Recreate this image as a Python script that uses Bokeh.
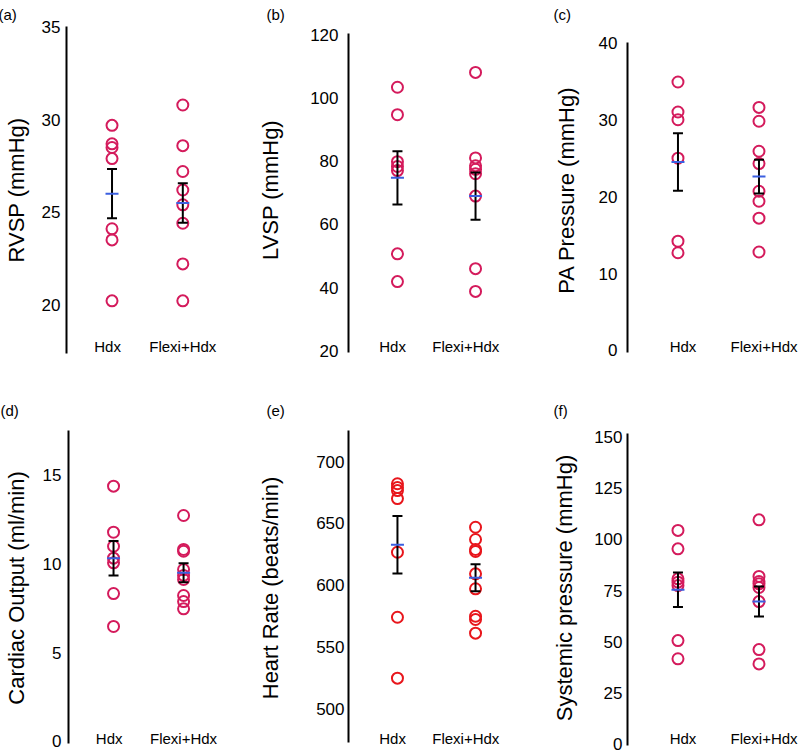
from bokeh.plotting import figure
from bokeh.models import Range1d, FixedTicker, Title
from bokeh.layouts import row, column
from bokeh.embed import file_html
from bokeh.resources import INLINE

# ---------------- data ----------------
categories = ["Hdx", "Flexi+Hdx"]

rvsp_hdx = [29.7, 28.7, 28.5, 27.9, 24.1, 23.5, 20.2]
rvsp_flexi = [30.8, 28.6, 27.2, 26.2, 25.4, 24.4, 22.2, 20.2]
rvsp_mean = [26.0, 25.5]
rvsp_sem = [1.33, 1.07]

lvsp_hdx = [103.5, 94.8, 79.9, 78.4, 77.1, 50.7, 41.9]
lvsp_flexi = [108.2, 81.1, 78.6, 77.5, 76.1, 69.0, 46.0, 38.8]
lvsp_mean = [74.8, 69.0]
lvsp_sem = [8.45, 7.5]

pa_hdx = [34.9, 31.0, 30.0, 25.0, 14.2, 12.7]
pa_flexi = [31.6, 29.8, 25.9, 24.3, 20.7, 19.4, 17.2, 12.8]
pa_mean = [24.5, 22.6]
pa_sem = [3.75, 2.2]

co_hdx = [14.36, 11.77, 10.98, 10.31, 10.05, 8.32, 6.47]
co_flexi = [12.71, 10.8, 10.7, 9.67, 9.34, 9.11, 8.21, 7.87, 7.46]
co_mean = [10.3, 9.49]
co_sem = [0.97, 0.53]

hr_hdx = [682, 679, 676.5, 670, 626.6, 574, 524.7]
hr_flexi = [646.8, 636.9, 628.8, 627.2, 609.1, 597.0, 574.8, 572.2, 561.1]
hr_mean = [632.6, 606.0]
hr_sem = [23.3, 10.95]

sp_hdx = [104.4, 95.4, 80.7, 79.1, 77.4, 50.5, 41.6]
sp_flexi = [109.6, 81.9, 79.4, 78.3, 76.5, 69.6, 46.1, 39.1]
sp_mean = [75.4, 69.6]
sp_sem = [8.45, 7.35]

ticks_a = [20, 25, 30, 35]
ticks_b = [20, 40, 60, 80, 100, 120]
ticks_c = [0, 10, 20, 30, 40]
ticks_d = [0, 5, 10, 15]
ticks_e = [500, 550, 600, 650, 700]
ticks_f = [0, 25, 50, 75, 100, 125, 150]

FONT = "Liberation Sans"
CRIMSON = "#d41b5c"
RED = "#e8161c"
BLUE = "#3b5fe0"


def panel(tag, ylabel, hdx, flexi, means, sems, ticks, yr, bounds, xr, width,
          height, mbl, mbt, mbb, color, tick_standoff, als, tag_offset,
          tag_standoff, label_shift):
    p = figure(width=width, height=height,
               x_range=Range1d(*xr), y_range=Range1d(*yr),
               output_backend="svg", toolbar_location=None,
               min_border_left=mbl, min_border_right=0,
               min_border_top=mbt, min_border_bottom=mbb)
    p.outline_line_color = None
    p.grid.visible = False
    p.background_fill_color = "white"
    p.border_fill_color = "white"

    # panel tag
    p.add_layout(Title(text=tag, align="left", offset=tag_offset,
                       standoff=tag_standoff, text_font=FONT,
                       text_font_size="15px", text_font_style="normal",
                       text_color="black"), "above")

    # y axis
    ya = p.yaxis[0]
    ya.ticker = FixedTicker(ticks=ticks)
    ya.bounds = bounds
    ya.axis_line_color = "black"
    ya.axis_line_width = 2
    ya.major_tick_line_color = None
    ya.minor_tick_line_color = None
    ya.major_tick_out = 0
    ya.major_tick_in = 0
    ya.major_label_standoff = tick_standoff
    ya.major_label_text_font = FONT
    ya.major_label_text_font_size = "17px"
    ya.major_label_text_color = "black"
    ya.axis_label = ylabel
    ya.axis_label_text_font = FONT
    ya.axis_label_text_font_size = "22px"
    ya.axis_label_text_font_style = "normal"
    ya.axis_label_text_color = "black"
    ya.axis_label_standoff = als

    # x axis (category labels), slightly offset from the point columns
    tick_pos = [i + d for i, d in enumerate(label_shift)]
    xa = p.xaxis[0]
    xa.ticker = FixedTicker(ticks=tick_pos)
    xa.major_label_overrides = {t: c for t, c in zip(tick_pos, categories)}
    xa.axis_line_color = None
    xa.major_tick_line_color = None
    xa.minor_tick_line_color = None
    xa.major_tick_out = 0
    xa.major_tick_in = 0
    xa.major_label_standoff = -16
    xa.major_label_text_font = FONT
    xa.major_label_text_font_size = "15px"
    xa.major_label_text_color = "black"

    # points
    p.scatter([0] * len(hdx), hdx, marker="circle", size=11,
              fill_color=None, line_color=color, line_width=2)
    p.scatter([1] * len(flexi), flexi, marker="circle", size=11,
              fill_color=None, line_color=color, line_width=2)

    # error bars (mean +/- SEM)
    xs = [0, 1]
    lo = [m - s for m, s in zip(means, sems)]
    hi = [m + s for m, s in zip(means, sems)]
    p.segment(xs, lo, xs, hi, line_color="black", line_width=2)
    p.scatter(xs, lo, marker="dash", size=10, line_color="black", line_width=2)
    p.scatter(xs, hi, marker="dash", size=10, line_color="black", line_width=2)
    # means
    p.scatter(xs, means, marker="dash", size=13, line_color=BLUE, line_width=2)
    return p


H0, H1 = 375, 380
W0, W1, W2 = 255, 285, 259
XR0 = (-0.643, 2.027)
XR1 = (-0.627, 1.832)
XR2 = (-0.623, 1.5)
LS0 = (-0.0625, 0.0)
LS1 = (-0.0625, -0.125)
LS2 = (0.0625, 0.0625)

pa_ = panel("(a)", "RVSP (mmHg)", rvsp_hdx, rvsp_flexi, rvsp_mean, rvsp_sem,
            ticks_a, (17.35, 35.05), (17.35, 35.05), XR0, W0, H0, 66, 26, 22,
            CRIMSON, 6, 10, -68, 7, LS0)
pb_ = panel("(b)", "LVSP (mmHg)", lvsp_hdx, lvsp_flexi, lvsp_mean, lvsp_sem,
            ticks_b, (19.11, 122.76), (19.52, 120.54), XR1, W1, H0, 87, 26, 22,
            CRIMSON, 10, 24, -82, 7, LS1)
pc_ = panel("(c)", "PA Pressure (mmHg)", pa_hdx, pa_flexi, pa_mean, pa_sem,
            ticks_c, (-0.40, 42.12), (-0.23, 40.08), XR2, W2, H0, 87, 26, 22,
            CRIMSON, 10, 17, -74, 7, LS2)
pd_ = panel("(d)", "Cardiac Output (ml/min)", co_hdx, co_flexi, co_mean, co_sem,
            ticks_d, (-0.225, 17.49), (-0.13, 17.49), XR0, W0, H1, 66, 55, 10,
            CRIMSON, 7, 11, -68, 24, LS0)
pe_ = panel("(e)", "Heart Rate (beats/min)", hr_hdx, hr_flexi, hr_mean, hr_sem,
            ticks_e, (470.2, 725.1), (472.9, 725.1), XR1, W1, H1, 87, 55, 10,
            RED, 4, 30, -82, 24, LS1)
pf_ = panel("(f)", "Systemic pressure (mmHg)", sp_hdx, sp_flexi, sp_mean, sp_sem,
            ticks_f, (-0.83, 153.3), (-0.8, 151.7), XR2, W2, H1, 87, 55, 10,
            CRIMSON, 5, 14, -74, 24, LS2)

layout = column(row(pa_, pb_, pc_, spacing=0), row(pd_, pe_, pf_, spacing=0),
                spacing=0)

with open("out.html", "w") as f:
    f.write(file_html(layout, INLINE))
